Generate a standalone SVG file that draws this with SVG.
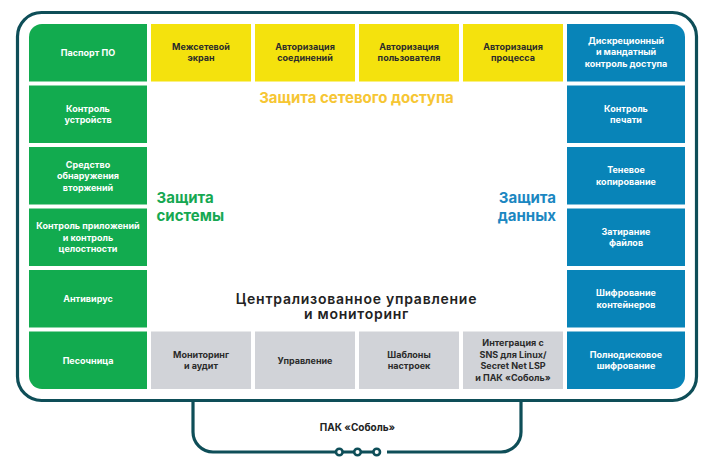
<svg xmlns="http://www.w3.org/2000/svg" width="716" height="468" viewBox="0 0 716 468">
<style>
.t{font-family:Inter,"Liberation Sans",sans-serif;font-weight:700;font-size:9px;text-anchor:middle}
.w{fill:#ffffff}
.d{fill:#2b2b2b}
.g{fill:#12ab4f}
.y{fill:#f4e20d}
.b{fill:#0884b8}
.s{fill:#d1d3d8}
.big{font-family:Inter,"Liberation Sans",sans-serif;font-weight:700;font-size:15px}
.ctr{font-family:Inter,"Liberation Sans",sans-serif;font-weight:600;font-size:14px;letter-spacing:0.75px;fill:#222222;text-anchor:middle}
.ln{fill:none;stroke:#0e4e58;stroke-width:3.2}
</style>
<rect x="0" y="0" width="716" height="468" fill="#ffffff"/>
<g id="frame"><rect class="ln" x="17.5" y="12.5" width="679" height="388" rx="24" stroke-width="3.5"/></g>
<g id="connectors">
<path class="ln" d="M193 402 V432 A20 20 0 0 0 213 452 H376.7"/>
<path class="ln" d="M387 452 H501 A20 20 0 0 0 521 432 V402"/>
<circle cx="339.3" cy="452" r="3.3" fill="#ffffff" stroke="#0e4e58" stroke-width="2.6"/>
<circle cx="357.5" cy="452" r="3.3" fill="#ffffff" stroke="#0e4e58" stroke-width="2.6"/>
<circle cx="376.7" cy="452" r="3.3" fill="#ffffff" stroke="#0e4e58" stroke-width="2.6"/>
</g>
<g id="n-pasport"><path class="g" d="M42 24 H147 V81.5 H29 V37 A13 13 0 0 1 42 24 Z"/><text class="t w" x="88" y="56">Паспорт ПО</text></g>
<g id="n-kontrol-ustr"><rect class="g" x="29" y="85.5" width="118" height="57.5"/><text class="t w" x="88" y="111.5">Контроль</text><text class="t w" x="88" y="123">устройств</text></g>
<g id="n-sov"><rect class="g" x="29" y="147" width="118" height="57.5"/><text class="t w" x="88" y="167.5">Средство</text><text class="t w" x="88" y="179">обнаружения</text><text class="t w" x="88" y="190.5">вторжений</text></g>
<g id="n-kontrol-pril"><rect class="g" x="29" y="208.5" width="118" height="57.5"/><text class="t w" x="88" y="229">Контроль приложений</text><text class="t w" x="88" y="240.5">и контроль</text><text class="t w" x="88" y="252">целостности</text></g>
<g id="n-antivirus"><rect class="g" x="29" y="270" width="118" height="57.5"/><text class="t w" x="88" y="302">Антивирус</text></g>
<g id="n-pesochnica"><path class="g" d="M29 331.5 H147 V389 H42 A13 13 0 0 1 29 376 Z"/><text class="t w" x="88" y="363.5">Песочница</text></g>

<g id="n-mse"><rect class="y" x="151" y="24" width="100" height="57.5"/><text class="t d" x="201" y="49.5">Межсетевой</text><text class="t d" x="201" y="61">экран</text></g>
<g id="n-avt-soed"><rect class="y" x="255" y="24" width="100" height="57.5"/><text class="t d" x="305" y="49.5">Авторизация</text><text class="t d" x="305" y="61">соединений</text></g>
<g id="n-avt-polz"><rect class="y" x="359" y="24" width="100" height="57.5"/><text class="t d" x="409" y="49.5">Авторизация</text><text class="t d" x="409" y="61">пользователя</text></g>
<g id="n-avt-proc"><rect class="y" x="463" y="24" width="100" height="57.5"/><text class="t d" x="513" y="49.5">Авторизация</text><text class="t d" x="513" y="61">процесса</text></g>

<g id="n-diskr"><path class="b" d="M567 24 H672 A13 13 0 0 1 685 37 V81.5 H567 Z"/><text class="t w" x="626" y="43.5">Дискреционный</text><text class="t w" x="626" y="55">и мандатный</text><text class="t w" x="626" y="66.5">контроль доступа</text></g>
<g id="n-pechat"><rect class="b" x="567" y="85.5" width="118" height="57.5"/><text class="t w" x="626" y="111.5">Контроль</text><text class="t w" x="626" y="123">печати</text></g>
<g id="n-tenevoe"><rect class="b" x="567" y="147" width="118" height="57.5"/><text class="t w" x="626" y="173">Теневое</text><text class="t w" x="626" y="184.5">копирование</text></g>
<g id="n-zatir"><rect class="b" x="567" y="208.5" width="118" height="57.5"/><text class="t w" x="626" y="234.5">Затирание</text><text class="t w" x="626" y="246">файлов</text></g>
<g id="n-shifr-kont"><rect class="b" x="567" y="270" width="118" height="57.5"/><text class="t w" x="626" y="296">Шифрование</text><text class="t w" x="626" y="307.5">контейнеров</text></g>
<g id="n-polnodisk"><path class="b" d="M567 331.5 H685 V376 A13 13 0 0 1 672 389 H567 Z"/><text class="t w" x="626" y="357.5">Полнодисковое</text><text class="t w" x="626" y="369">шифрование</text></g>

<g id="n-monitoring"><rect class="s" x="151" y="331.5" width="100" height="57.5"/><text class="t d" x="201" y="357.5">Мониторинг</text><text class="t d" x="201" y="369">и аудит</text></g>
<g id="n-upravlenie"><rect class="s" x="255" y="331.5" width="100" height="57.5"/><text class="t d" x="305" y="363.5">Управление</text></g>
<g id="n-shablony"><rect class="s" x="359" y="331.5" width="100" height="57.5"/><text class="t d" x="409" y="357.5">Шаблоны</text><text class="t d" x="409" y="369">настроек</text></g>
<g id="n-integr"><rect class="s" x="463" y="331.5" width="100" height="57.5"/><text class="t d" x="513" y="346">Интеграция с</text><text class="t d" x="513" y="357.5">SNS для Linux/</text><text class="t d" x="513" y="369">Secret Net LSP</text><text class="t d" x="513" y="380.5">и ПАК «Соболь»</text></g>

<g id="labels">
<text class="big" x="356.5" y="103" text-anchor="middle" fill="#f6c634">Защита сетевого доступа</text>
<text class="big" x="156.5" y="202.5" fill="#16a852">Защита</text>
<text class="big" x="156.5" y="220.5" fill="#16a852">системы</text>
<text class="big" x="556" y="202.5" text-anchor="end" fill="#1b87c1">Защита</text>
<text class="big" x="556" y="220.5" text-anchor="end" fill="#1b87c1">данных</text>
<text class="ctr" x="356.5" y="303.5">Централизованное управление</text>
<text class="ctr" x="356.5" y="319">и мониторинг</text>
<text x="357.5" y="431" text-anchor="middle" font-family="Inter,'Liberation Sans',sans-serif" font-weight="700" font-size="10px" fill="#222222">ПАК «Соболь»</text>
</g>
</svg>
